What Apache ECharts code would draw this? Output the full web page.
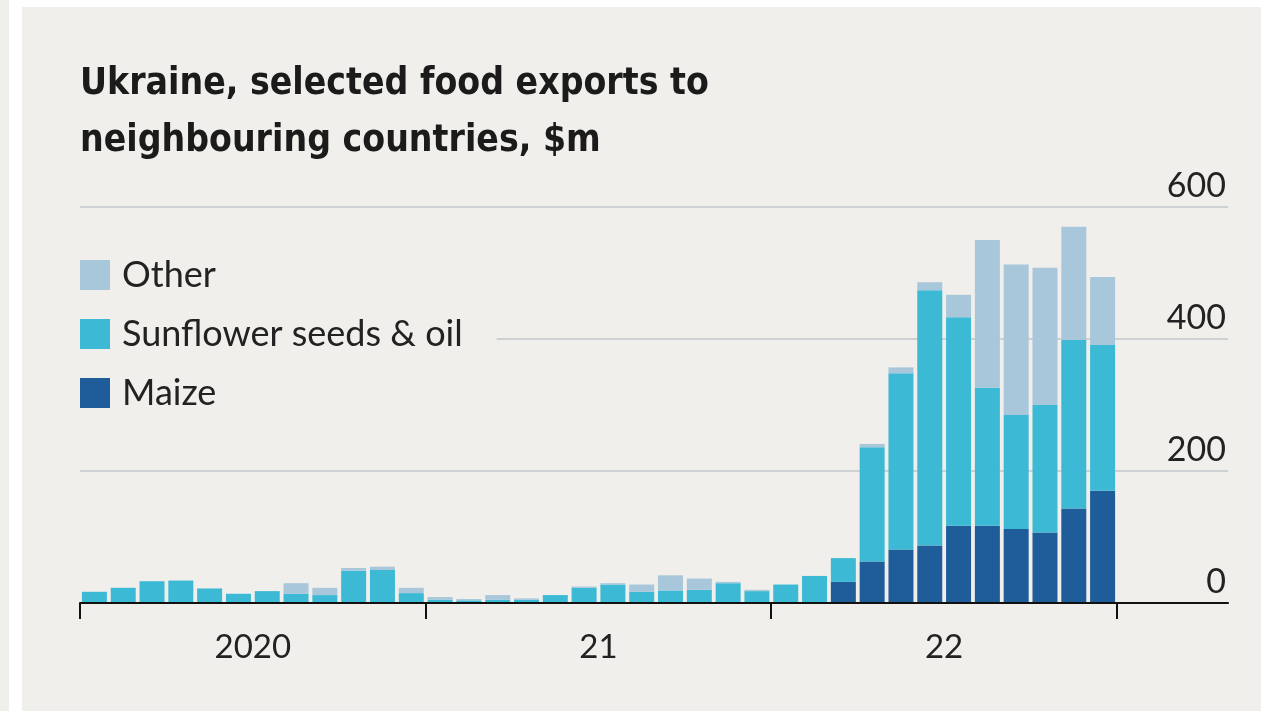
<!DOCTYPE html>
<html>
<head>
<meta charset="utf-8">
<script src="https://cdn.jsdelivr.net/npm/echarts@6/dist/echarts.min.js"></script>
<style>
html,body{margin:0;padding:0;background:#ffffff;width:1261px;height:711px;overflow:hidden;}
#strip{position:absolute;left:0;top:0;width:9px;height:711px;background:#efefec;}
#panel{position:absolute;left:22px;top:7px;width:1239px;height:704px;background:#f1efeb;}
#chart{position:absolute;left:0;top:0;width:1261px;height:711px;}
</style>
</head>
<body>
<div id="strip"></div>
<div id="panel"></div>
<div id="chart"></div>
<script>
// Monthly, Jan 2020 .. Dec 2022, $m
const months = [
  'Jan 2020','Feb 2020','Mar 2020','Apr 2020','May 2020','Jun 2020','Jul 2020','Aug 2020','Sep 2020','Oct 2020','Nov 2020','Dec 2020',
  'Jan 2021','Feb 2021','Mar 2021','Apr 2021','May 2021','Jun 2021','Jul 2021','Aug 2021','Sep 2021','Oct 2021','Nov 2021','Dec 2021',
  'Jan 2022','Feb 2022','Mar 2022','Apr 2022','May 2022','Jun 2022','Jul 2022','Aug 2022','Sep 2022','Oct 2022','Nov 2022','Dec 2022'
];
const maize = [
  0,0,0,0,0,0,0,0,0,0,0,0,
  0,0,0,0,0,0,0,0,0,0,0,0,
  0,0,32,63,81,87,117,117,112,107,143,170
];
const sunflower = [
  17,23,33,34,22,14,18,14,12,49,50,15,
  5,4,5,5,12,23,28,17,19,20,30,18,
  28,41,36,173,267,387,316,209,173,193,256,221
];
const other = [
  0,0,0,0,0,0,0,16,11,4,5,8,
  4,2,7,2,0,2,2,11,23,17,2,2,
  0,0,0,5,9,12,34,224,228,208,171,103
];
const seriesNames = ['Maize','Sunflower seeds & oil','Other'];
const legendOrder = ['Other','Sunflower seeds & oil','Maize'];
const yearTicks = [0,12,24,36];
const yearLabelPos = [6,18,30];
const yearLabels = ['2020','21','22'];
const yTicks = [0,200,400,600];

const colors = {'Maize':'#1f5d9a','Sunflower seeds & oil':'#3cb9d4','Other':'#a8c7db'};
const values = {'Maize':maize,'Sunflower seeds & oil':sunflower,'Other':other};

const chart = echarts.init(document.getElementById('chart'), null, {renderer:'canvas'});
const fontMain = "'Liberation Sans Narrow','DejaVu Sans Condensed','Liberation Sans',sans-serif";
const fontReg = "'Lato','Liberation Sans',sans-serif";

chart.setOption({
  backgroundColor:'transparent',
  animation:false,
  title:{
    text:'Ukraine, selected food exports to\nneighbouring countries, $m',
    left:80, top:56, padding:0,
    textStyle:{fontFamily:fontMain,fontWeight:'bold',fontSize:37,lineHeight:57,color:'#1b1b1b'}
  },
  legend:{
    data:legendOrder,
    orient:'vertical',
    left:80, top:257,
    itemWidth:30, itemHeight:30, itemGap:23,
    icon:'rect',
    backgroundColor:'#f1efeb',
    padding:[0,34,0,0],
    textStyle:{fontFamily:fontReg,fontSize:36,color:'#222',padding:[0,0,0,7]},
    selectedMode:false
  },
  grid:[
    {left:80,right:144,top:207,bottom:108,containLabel:false},
    {left:80,right:33,top:207,bottom:108,containLabel:false}
  ],
  xAxis:[
    {
      type:'category', gridIndex:0, data:months, boundaryGap:true,
      axisLine:{show:false}, axisTick:{show:false}, axisLabel:{show:false}, splitLine:{show:false}
    },
    {
      type:'value', gridIndex:1, min:0, max:39.86, z:5,
      splitLine:{show:false},
      axisLine:{show:true,lineStyle:{color:'#111',width:2}},
      axisTick:{show:true,customValues:yearTicks,length:16,lineStyle:{color:'#111',width:2}},
      axisLabel:{show:true,customValues:yearLabelPos,margin:28,
        formatter:function(v){const i=yearLabelPos.indexOf(Math.round(v));return i>=0?yearLabels[i]:'';},
        fontFamily:fontReg,fontSize:33,color:'#222'}
    }
  ],
  yAxis:[
    {
      type:'value', gridIndex:0, min:0, max:600, interval:200,
      axisLine:{show:false}, axisTick:{show:false}, axisLabel:{show:false}, splitLine:{show:false}
    },
    {
      type:'value', gridIndex:1, position:'right', min:0, max:600, interval:200,
      axisLine:{show:false}, axisTick:{show:false},
      splitLine:{show:true,lineStyle:{color:'#cdd1d4',width:2}},
      axisLabel:{inside:true,margin:2,verticalAlign:'bottom',padding:[0,0,4,0],
        fontFamily:fontReg,fontSize:34,color:'#222'}
    }
  ],
  series:seriesNames.map(function(name){
    return {
      name:name, type:'bar', stack:'total', barWidth:25,
      xAxisIndex:0, yAxisIndex:0,
      itemStyle:{color:colors[name]},
      data:values[name]
    };
  })
});
</script>
</body>
</html>
